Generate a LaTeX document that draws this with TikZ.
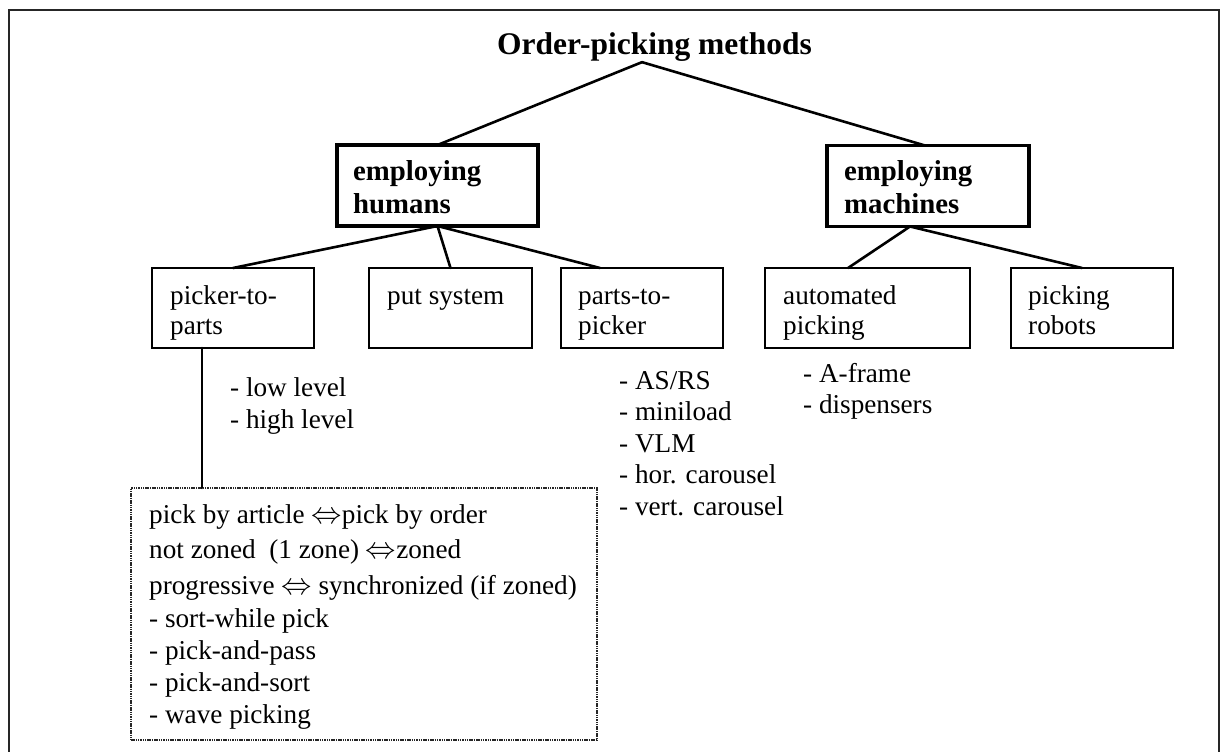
\documentclass[tikz,border=0pt]{standalone}
\usepackage{fontspec}
\usepackage{graphicx}
\setmainfont{Liberation Serif}
\begin{document}
\tikzset{
  frame/.style={draw=black!85, line width=2pt},
  mainbox/.style={draw, line width=3.5pt, minimum width=#1, minimum height=81pt, inner sep=0pt, outer sep=0pt},
  subbox/.style={draw, line width=2.7pt, minimum width=#1, minimum height=80pt, inner sep=0pt, outer sep=0pt},
  dotbox/.style={draw=black!85, line width=2.6pt, dash pattern=on 1.5pt off 0.8pt, minimum width=466pt, minimum height=252pt, inner sep=0pt, outer sep=0pt},
  conn/.style={line width=2.6pt, line cap=round},
  titletxt/.style={anchor=base west, inner sep=0pt, font=\fontsize{31.5}{36}\selectfont\bfseries},
  boldtxt/.style={anchor=base west, inner sep=0pt, align=left, font=\fontsize{28.8}{33}\selectfont\bfseries},
  txt/.style={anchor=base west, inner sep=0pt, align=left, font=\fontsize{27.2}{30}\selectfont},
}
\newcommand{\dblarrow}{\scalebox{1.22}{$\Leftrightarrow$}}
\begin{tikzpicture}[x=1pt,y=-1pt]
\useasboundingbox (0,0) rectangle (1227,752);
\draw[frame] (9,760) -- (9,10) -- (1219,10) -- (1219,760);

\node[titletxt] (title) at (497,55) {Order-picking methods};

\node[mainbox=201pt] (hum) at (437.5,185.5) {};
\node[mainbox=202pt] (mac) at (928,186) {};
\node[subbox=162pt] (ptp) at (233,308) {};
\node[subbox=163pt] (put) at (450.5,308) {};
\node[subbox=162pt] (ptk) at (642,308) {};
\node[subbox=205pt] (aut) at (867.5,308) {};
\node[subbox=162pt] (rob) at (1092,308) {};
\node[dotbox] (dots) at (364,614) {};

% anchor base = baseline of the last line
\node[boldtxt] (humT) at (353,213) {employing\\humans};
\node[boldtxt] (macT) at (844,213) {employing\\machines};
\node[txt] (ptpT) at (170,334) {picker-to-\\parts};
\node[txt] (putT) at (387,304) {put system};
\node[txt] (ptkT) at (578,334) {parts-to-\\picker};
\node[txt] (autT) at (783,334) {automated\\picking};
\node[txt] (robT) at (1028,334) {picking\\robots};

\node[txt, font=\fontsize{27.2}{32}\selectfont] (lvl) at (230,428) {- low level\\- high level};
\node[txt, font=\fontsize{27.2}{31.5}\selectfont] (asrs) at (619,515) {- AS/RS\\- miniload\\- VLM\\- hor. carousel\\- vert. carousel};
\node[txt, font=\fontsize{27.2}{31}\selectfont] (afr) at (803,413) {- A-frame\\- dispensers};
\node[txt, font=\fontsize{27.2}{32}\selectfont] (lst) at (149,723) {pick by article \dblarrow pick by order\\[3pt]
not zoned\ \ (1 zone) \dblarrow zoned\\[4pt]
progressive \dblarrow{} synchronized (if zoned)\\[1pt]
- sort-while pick\\
- pick-and-pass\\
- pick-and-sort\\
- wave picking};

\draw[conn] ([xshift=145pt]title.south west) -- (hum.north);
\draw[conn] ([xshift=145pt]title.south west) -- ([xshift=-3pt]mac.north);
\draw[conn] (hum.south) -- (ptp.north);
\draw[conn] (hum.south) -- (put.north);
\draw[conn] (hum.south) -- ([xshift=-42pt]ptk.north);
\draw[conn] ([xshift=-18pt]mac.south) -- ([xshift=-19.5pt]aut.north);
\draw[conn] ([xshift=-18pt]mac.south) -- ([xshift=-10pt]rob.north);
\draw[conn] ([xshift=-31pt]ptp.south) -- ([xshift=-31pt]ptp.south |- dots.north);
\end{tikzpicture}
\end{document}
